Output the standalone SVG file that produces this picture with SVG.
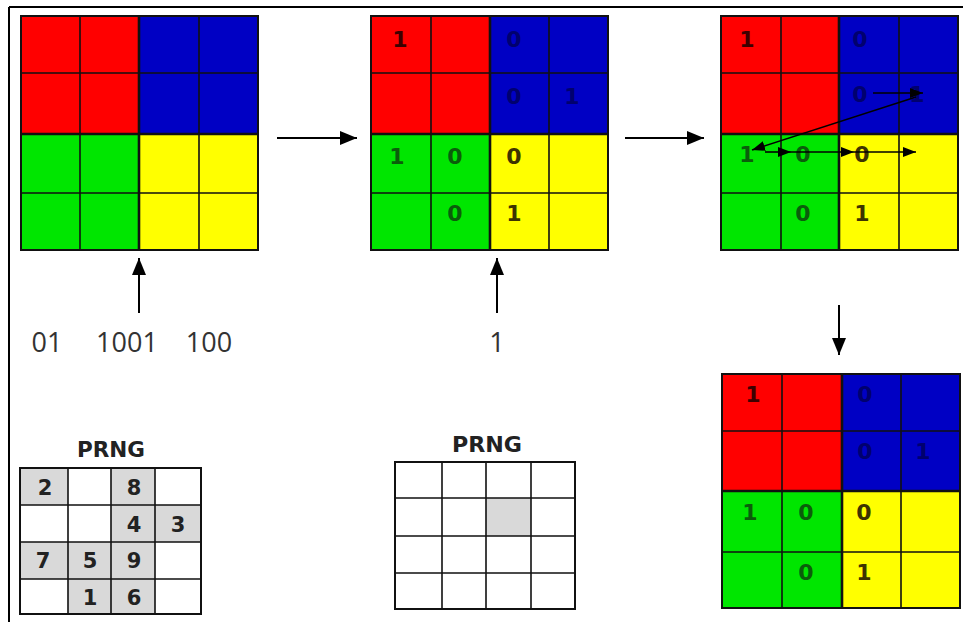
<svg xmlns="http://www.w3.org/2000/svg" width="963" height="622" viewBox="0 0 963 622">
<style>
.r{fill:#ff0000}.b{fill:#0000c4}.g{fill:#00e600}.y{fill:#ffff00}.gr{fill:#d9d9d9}
.thin{fill:none;stroke:#111;stroke-width:1.6}
.thick{fill:none;stroke:#111;stroke-width:2.6}
.box{fill:none;stroke:#111;stroke-width:2}
.d{font-family:"DejaVu Sans",sans-serif;font-weight:bold;font-size:22px;text-anchor:middle}
.dr{fill:#3c0000}.db{fill:#00006e}.dg{fill:#0b5d0b}.dy{fill:#3d3300}
.p{font-family:"DejaVu Sans",sans-serif;font-weight:bold;font-size:21px;fill:#222;text-anchor:middle}
.lbl{font-family:"Open Sans","Liberation Sans",sans-serif;font-size:27px;fill:#333;text-anchor:middle}
.conn{fill:none;stroke:#000;stroke-width:2}
.conn2{fill:none;stroke:#000;stroke-width:1.6}
</style>
<defs>
<marker id="ah" viewBox="0 0 17 14" refX="17" refY="7" markerWidth="17" markerHeight="14" orient="auto" markerUnits="userSpaceOnUse"><path d="M0,0 L17,7 L0,14 z" fill="#000"/></marker>
<marker id="ahs" viewBox="0 0 13 10" refX="13" refY="5" markerWidth="13" markerHeight="10" orient="auto" markerUnits="userSpaceOnUse"><path d="M0,0 L13,5 L0,10 z" fill="#000"/></marker>
</defs>
<rect width="963" height="622" fill="#fff"/>
<g id="frame"><path d="M9,7H963M9,7V622" fill="none" stroke="#000" stroke-width="2"/></g>

<g id="grid1">
<rect class="r" x="21" y="16" width="118" height="118"/>
<rect class="b" x="139" y="16" width="119" height="118"/>
<rect class="g" x="21" y="134" width="118" height="116"/>
<rect class="y" x="139" y="134" width="119" height="116"/>
<path class="thin" d="M80,16V250M199,16V250M21,73H258M21,193H258"/>
<path class="thick" d="M139,16V250M21,134H258"/>
<rect class="box" x="21" y="16" width="237" height="234"/>
</g>

<g id="grid2">
<rect class="r" x="371" y="16" width="119" height="118"/>
<rect class="b" x="490" y="16" width="118" height="118"/>
<rect class="g" x="371" y="134" width="119" height="116"/>
<rect class="y" x="490" y="134" width="118" height="116"/>
<path class="thin" d="M431,16V250M549,16V250M371,73H608M371,193H608"/>
<path class="thick" d="M490,16V250M371,134H608"/>
<rect class="box" x="371" y="16" width="237" height="234"/>
<text class="d dr" x="400" y="47">1</text>
<text class="d db" x="514" y="47">0</text>
<text class="d db" x="514" y="104">0</text>
<text class="d db" x="572" y="104">1</text>
<text class="d dg" x="397" y="164">1</text>
<text class="d dg" x="455" y="164">0</text>
<text class="d dy" x="514" y="164">0</text>
<text class="d dg" x="455" y="221">0</text>
<text class="d dy" x="514" y="221">1</text>
</g>

<g id="grid3">
<rect class="r" x="721" y="16" width="118" height="118"/>
<rect class="b" x="839" y="16" width="119" height="118"/>
<rect class="g" x="721" y="134" width="118" height="116"/>
<rect class="y" x="839" y="134" width="119" height="116"/>
<path class="thin" d="M781,16V250M899,16V250M721,73H958M721,193H958"/>
<path class="thick" d="M839,16V250M721,134H958"/>
<rect class="box" x="721" y="16" width="237" height="234"/>
<text class="d dr" x="747" y="47">1</text>
<text class="d db" x="860" y="47">0</text>
<text class="d db" x="860" y="102">0</text>
<text class="d db" x="917" y="102">1</text>
<text class="d dg" x="747" y="162">1</text>
<text class="d dg" x="803" y="162">0</text>
<text class="d dy" x="862" y="162">0</text>
<text class="d dg" x="803" y="221">0</text>
<text class="d dy" x="862" y="221">1</text>
</g>

<g id="grid4">
<rect class="r" x="722" y="374" width="120" height="117"/>
<rect class="b" x="842" y="374" width="118" height="117"/>
<rect class="g" x="722" y="491" width="120" height="117"/>
<rect class="y" x="842" y="491" width="118" height="117"/>
<path class="thin" d="M782,374V608M901,374V608M722,431H960M722,552H960"/>
<path class="thick" d="M842,374V608M722,491H960"/>
<rect class="box" x="722" y="374" width="238" height="234"/>
<text class="d dr" x="753" y="402">1</text>
<text class="d db" x="865" y="402">0</text>
<text class="d db" x="865" y="459">0</text>
<text class="d db" x="923" y="459">1</text>
<text class="d dg" x="750" y="520">1</text>
<text class="d dg" x="806" y="520">0</text>
<text class="d dy" x="864" y="520">0</text>
<text class="d dg" x="806" y="580">0</text>
<text class="d dy" x="864" y="580">1</text>
</g>

<g id="prng1">
<text class="p" x="111" y="457" textLength="68" lengthAdjust="spacingAndGlyphs">PRNG</text>
<rect class="gr" x="20" y="468" width="48" height="37"/>
<rect class="gr" x="111" y="468" width="44" height="37"/>
<rect class="gr" x="111" y="505" width="44" height="37"/>
<rect class="gr" x="155" y="505" width="46" height="37"/>
<rect class="gr" x="20" y="542" width="48" height="37"/>
<rect class="gr" x="68" y="542" width="43" height="37"/>
<rect class="gr" x="111" y="542" width="44" height="37"/>
<rect class="gr" x="68" y="579" width="43" height="35"/>
<rect class="gr" x="111" y="579" width="44" height="35"/>
<path class="thin" d="M68,468V614M111,468V614M155,468V614M20,505H201M20,542H201M20,579H201"/>
<rect class="box" x="20" y="468" width="181" height="146"/>
<text class="p" x="45" y="495">2</text>
<text class="p" x="134" y="495">8</text>
<text class="p" x="134" y="532">4</text>
<text class="p" x="178" y="532">3</text>
<text class="p" x="43" y="568">7</text>
<text class="p" x="90" y="568">5</text>
<text class="p" x="134" y="568">9</text>
<text class="p" x="90" y="605">1</text>
<text class="p" x="134" y="605">6</text>
</g>

<g id="prng2">
<text class="p" x="487" y="452" textLength="70" lengthAdjust="spacingAndGlyphs">PRNG</text>
<rect class="gr" x="486" y="498" width="45" height="38"/>
<path class="thin" d="M442,462V609M486,462V609M531,462V609M395,498H575M395,536H575M395,573H575"/>
<rect class="box" x="395" y="462" width="180" height="147"/>
</g>

<g id="labels">
<text class="lbl" x="47" y="352">01</text>
<text class="lbl" x="127" y="352">1001</text>
<text class="lbl" x="209" y="352">100</text>
<text class="lbl" x="497" y="352">1</text>
</g>

<g id="connectors">
<line class="conn" x1="277" y1="138" x2="357" y2="138" marker-end="url(#ah)"/>
<line class="conn" x1="625" y1="138" x2="704" y2="138" marker-end="url(#ah)"/>
<line class="conn" x1="839" y1="305" x2="839" y2="355" marker-end="url(#ah)"/>
<line class="conn" x1="139" y1="313" x2="139" y2="258" marker-end="url(#ah)"/>
<line class="conn" x1="497" y1="313" x2="497" y2="258" marker-end="url(#ah)"/>
<line class="conn2" x1="873" y1="93" x2="923" y2="93" marker-end="url(#ahs)"/>
<line class="conn2" x1="916" y1="97" x2="752" y2="150" marker-end="url(#ahs)"/>
<line class="conn2" x1="765" y1="152" x2="791" y2="152" marker-end="url(#ahs)"/>
<line class="conn2" x1="791" y1="152" x2="854" y2="152" marker-end="url(#ahs)"/>
<line class="conn2" x1="854" y1="152" x2="916" y2="152" marker-end="url(#ahs)"/>
</g>
</svg>
